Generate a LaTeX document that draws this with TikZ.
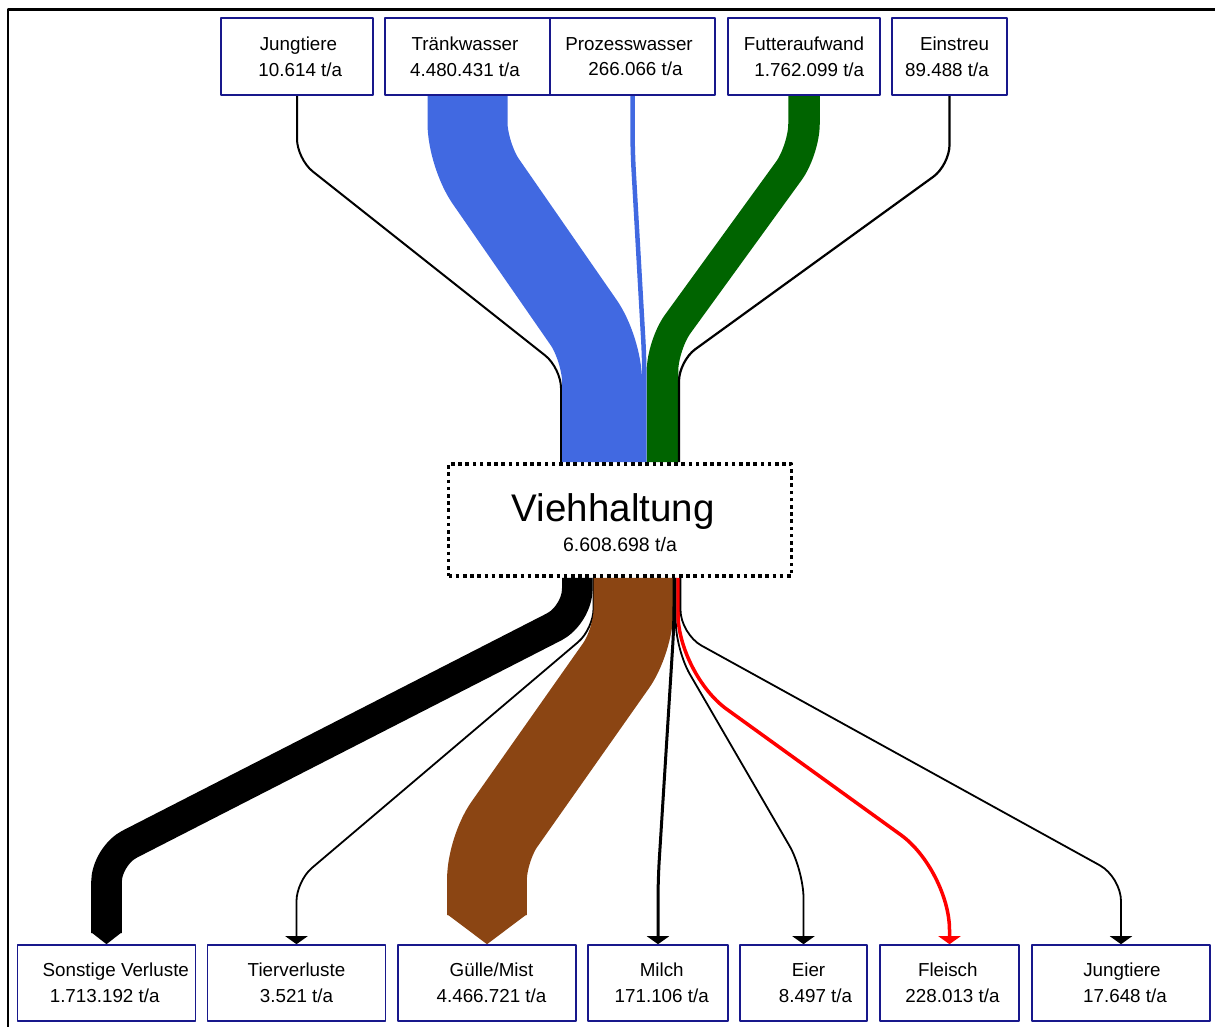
\documentclass[tikz,border=0pt]{standalone}
\usepackage{fontspec}
\setmainfont{Liberation Sans}
\usetikzlibrary{calc,arrows.meta,backgrounds}
\definecolor{boxblue}{RGB}{24,24,140}
\definecolor{water}{RGB}{65,105,225}
\definecolor{feed}{RGB}{0,100,0}
\definecolor{manure}{RGB}{139,69,19}
\definecolor{meat}{RGB}{255,0,0}
% shift a centred line sideways: the glue is twice the wanted offset
\newcommand{\nudge}[2]{\hspace*{#1pt}#2}

\begin{document}
\begin{tikzpicture}[x=1pt,y=-1pt,
  tbox/.style={draw=boxblue, line width=1.6pt, fill=white, inner sep=0pt,
    align=center, font=\fontsize{18.8}{25.6}\selectfont},
  topbox/.style={tbox, minimum height=77pt},
  botbox/.style={tbox, minimum height=76pt},
  thinflow/.style={line width=1.8pt},
  endtip/.style={-{Triangle[width=22pt,length=8pt]}},
  line join=round]
\useasboundingbox (0,0) rectangle (1215,1026);

% frame
\draw[line width=2.7pt] (8,1040) -- (8,9.7) -- (1230,9.7);

% inputs
\node[topbox, minimum width=152pt] (jtIn) at (297,56.5) {\nudge{3}{Jungtiere}\\\nudge{6.6}{10.614 t/a}};
\node[topbox, minimum width=165pt] (tw) at (467.5,56.5) {\nudge{-5}{Tränkwasser}\\\nudge{-5}{4.480.431 t/a}};
\node[topbox, minimum width=165pt] (pw) at (632.5,56.5) {\nudge{-7}{Prozesswasser}\\\nudge{6}{266.066 t/a}};
\node[topbox, minimum width=152pt] (fa) at (804,56.5) {Futteraufwand\\\nudge{10.6}{1.762.099 t/a}};
\node[topbox, minimum width=115pt] (es) at (949.5,56.5) {\nudge{10}{Einstreu}\\\nudge{-5}{89.488 t/a}};

% process
\node[draw, line width=3.6pt, dash pattern=on 3.6pt off 3.6pt, fill=white,
  minimum width=343pt, minimum height=112pt, inner sep=0pt] (vh) at (620,520) {};
\node[anchor=base, inner sep=0pt, font=\fontsize{38.5}{40}\selectfont] (vhname) at (613.3,521.7) {Viehhaltung};
\node[anchor=base, inner sep=0pt, font=\fontsize{19.5}{22}\selectfont] (vhsum) at (620,551.7) {6.608.698 t/a};

% outputs
\node[botbox, minimum width=178pt] (sv) at (106.5,983) {\nudge{18.6}{Sonstige Verluste}\\\nudge{-3.6}{1.713.192 t/a}};
\node[botbox, minimum width=178pt] (tv) at (296.5,983) {Tierverluste\\3.521 t/a};
\node[botbox, minimum width=178pt] (gm) at (487,983) {\nudge{9}{Gülle/Mist}\\\nudge{9}{4.466.721 t/a}};
\node[botbox, minimum width=140pt] (mi) at (658,983) {\nudge{7.4}{Milch}\\\nudge{7.4}{171.106 t/a}};
\node[botbox, minimum width=127pt] (ei) at (803.5,983) {\nudge{10}{Eier}\\\nudge{24}{8.497 t/a}};
\node[botbox, minimum width=139pt] (fl) at (949.5,983) {\nudge{-3.4}{Fleisch}\\\nudge{6}{228.013 t/a}};
\node[botbox, minimum width=178pt] (jtOut) at (1121,983) {\nudge{2}{Jungtiere}\\\nudge{8}{17.648 t/a}};

% docking points on the process box
\coordinate (iJt) at ($(vh.north)+(-59,0)$);
\coordinate (iTw) at ($(vh.north)+(-18,0)$);
\coordinate (iPw) at ($(vh.north)+(24.4,0)$);
\coordinate (iFa) at ($(vh.north)+(42.5,0)$);
\coordinate (iEs) at ($(vh.north)+(59,0)$);
\coordinate (oSv) at ($(vh.south)+(-42.7,0)$);
\coordinate (oTv) at ($(vh.south)+(-26.5,0)$);
\coordinate (oGm) at ($(vh.south)+(13.4,0)$);
\coordinate (oMi) at ($(vh.south)+(54,0)$);
\coordinate (oEi) at ($(vh.south)+(55.8,0)$);
\coordinate (oFl) at ($(vh.south)+(58,0)$);
\coordinate (oJt) at ($(vh.south)+(60.5,0)$);

\begin{scope}[on background layer]
  % incoming flows
  \draw[line width=2pt, rounded corners=20pt] (jtIn.south) -- (297,159) -- (561,368) -- (iJt);
  \draw[water, line width=80pt, rounded corners=32pt] (tw.south) -- (467.5,155) -- (602,349) -- (iTw);
  \draw[water, line width=4.5pt, rounded corners=20pt] (pw.south) -- (632.5,150) -- (644.4,360) -- (iPw);
  \draw[feed, line width=31.5pt, rounded corners=26pt] (fa.south) -- (804,150) -- (662.5,345) -- (iFa);
  \draw[line width=2.2pt, rounded corners=20pt] (es.south) -- (949.5,165) -- (679,361) -- (iEs);

  % outgoing flows
  \draw[line width=30.6pt, rounded corners=26pt] (oSv) -- (577.3,615) -- (106.5,856) -- ($(sv.north)+(0,-11)$);
  \fill ($(sv.north)+(-15.3,-12)$) -- (sv.north) -- ($(sv.north)+(15.3,-12)$) -- cycle;
  \draw[thinflow, endtip, rounded corners=20pt] (oTv) -- (593.5,629) -- (296.5,881) -- (tv.north);
  \draw[manure, line width=79.8pt, rounded corners=30pt] (oGm) -- (633.4,641) -- (487,849) -- ($(gm.north)+(0,-29)$);
  \fill[manure] ($(gm.north)+(-39.9,-30)$) -- (gm.north) -- ($(gm.north)+(39.9,-30)$) -- cycle;
  \draw[line width=3pt, endtip, rounded corners=20pt] (oMi) -- (674,625) -- (658,880) -- (mi.north);
  \draw[thinflow, endtip, rounded corners=28pt] (oEi) -- (675.8,650) -- (803.5,870) -- (ei.north);
  \draw[meat, line width=3.5pt, endtip, rounded corners=60pt] (oFl) -- (678,674) -- (949.5,870) -- (fl.north);
  \draw[thinflow, endtip, rounded corners=24pt] (oJt) -- (680.5,634) -- (1121,877) -- (jtOut.north);
\end{scope}
\end{tikzpicture}
\end{document}
